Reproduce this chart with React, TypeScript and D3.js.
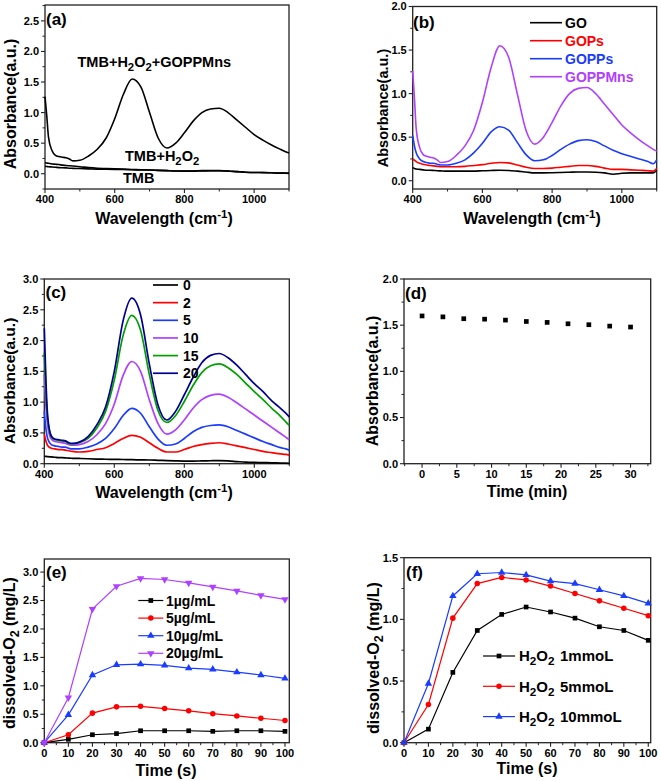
import React from "react";
import * as d3 from "d3";

// ---------- DATA ----------
const wavelengths = [400, 405, 410, 420, 430, 440, 450, 460, 470, 480, 500, 525, 550, 575, 600, 625, 650, 675, 700, 725, 750, 775, 800, 825, 850, 875, 900, 925, 950, 975, 1000, 1025, 1050, 1075, 1090, 1100];

// panel (a)
const aTMB = [0.12, 0.118, 0.115, 0.11, 0.105, 0.1, 0.098, 0.095, 0.09, 0.088, 0.085, 0.08, 0.075, 0.072, 0.07, 0.068, 0.065, 0.062, 0.06, 0.055, 0.05, 0.045, 0.042, 0.042, 0.045, 0.048, 0.048, 0.042, 0.035, 0.025, 0.02, 0.018, 0.015, 0.01, 0.008, 0.005];
const aTMBH2O2 = [0.18, 0.175, 0.17, 0.16, 0.155, 0.15, 0.14, 0.135, 0.13, 0.125, 0.115, 0.1, 0.09, 0.085, 0.08, 0.075, 0.07, 0.065, 0.06, 0.055, 0.05, 0.045, 0.045, 0.045, 0.05, 0.05, 0.05, 0.045, 0.035, 0.025, 0.02, 0.02, 0.015, 0.01, 0.01, 0.01];
const GOPPMns = [1.26, 0.95, 0.6, 0.38, 0.3, 0.28, 0.27, 0.26, 0.24, 0.21, 0.22, 0.29, 0.4, 0.58, 0.9, 1.3, 1.55, 1.42, 1.0, 0.58, 0.42, 0.5, 0.67, 0.86, 1.0, 1.06, 1.07, 1.0, 0.88, 0.76, 0.64, 0.55, 0.47, 0.4, 0.36, 0.34];

// panel (b)
const GO = [0.15, 0.14, 0.135, 0.13, 0.125, 0.12, 0.12, 0.118, 0.115, 0.113, 0.11, 0.11, 0.11, 0.11, 0.115, 0.118, 0.12, 0.118, 0.11, 0.1, 0.09, 0.09, 0.092, 0.095, 0.098, 0.1, 0.1, 0.098, 0.09, 0.075, 0.085, 0.09, 0.09, 0.09, 0.09, 0.12];
const GOPs = [0.25, 0.235, 0.22, 0.2, 0.19, 0.18, 0.175, 0.17, 0.165, 0.16, 0.16, 0.16, 0.165, 0.175, 0.185, 0.2, 0.21, 0.205, 0.18, 0.155, 0.14, 0.14, 0.145, 0.155, 0.165, 0.175, 0.175, 0.165, 0.145, 0.13, 0.13, 0.125, 0.12, 0.115, 0.11, 0.14];
const GOPPs = [0.52, 0.4, 0.32, 0.25, 0.22, 0.21, 0.2, 0.2, 0.19, 0.18, 0.18, 0.2, 0.24, 0.32, 0.43, 0.56, 0.62, 0.58, 0.44, 0.3, 0.23, 0.24, 0.29, 0.36, 0.42, 0.46, 0.47, 0.45, 0.4, 0.35, 0.31, 0.28, 0.25, 0.22, 0.195, 0.24];

// panel (c)
const c0 = [0.12, 0.118, 0.115, 0.11, 0.105, 0.1, 0.098, 0.095, 0.09, 0.088, 0.085, 0.08, 0.075, 0.072, 0.07, 0.068, 0.065, 0.062, 0.06, 0.055, 0.05, 0.045, 0.042, 0.042, 0.045, 0.048, 0.05, 0.045, 0.035, 0.025, 0.02, 0.018, 0.015, 0.01, 0.008, 0.005];
const c2 = [0.48, 0.36, 0.29, 0.25, 0.24, 0.23, 0.23, 0.22, 0.21, 0.2, 0.19, 0.2, 0.23, 0.26, 0.33, 0.41, 0.46, 0.43, 0.34, 0.25, 0.19, 0.19, 0.23, 0.28, 0.31, 0.33, 0.34, 0.32, 0.29, 0.26, 0.23, 0.2, 0.18, 0.16, 0.15, 0.14];
const c5 = [0.85, 0.55, 0.4, 0.31, 0.29, 0.28, 0.27, 0.27, 0.25, 0.24, 0.24, 0.27, 0.32, 0.41, 0.57, 0.78, 0.9, 0.82, 0.6, 0.4, 0.3, 0.32, 0.41, 0.52, 0.59, 0.62, 0.63, 0.6, 0.54, 0.48, 0.42, 0.36, 0.31, 0.26, 0.24, 0.22];
const c10 = [1.45, 0.9, 0.6, 0.4, 0.36, 0.35, 0.34, 0.33, 0.31, 0.3, 0.31, 0.36, 0.47, 0.65, 0.97, 1.43, 1.66, 1.5, 1.04, 0.65, 0.48, 0.55, 0.71, 0.9, 1.04, 1.11, 1.13, 1.08, 0.99, 0.89, 0.79, 0.69, 0.59, 0.49, 0.43, 0.39];
const c15 = [1.8, 1.1, 0.7, 0.44, 0.39, 0.38, 0.37, 0.36, 0.33, 0.32, 0.34, 0.41, 0.58, 0.85, 1.36, 2.08, 2.41, 2.17, 1.45, 0.86, 0.67, 0.78, 1.01, 1.27, 1.48, 1.59, 1.62, 1.56, 1.45, 1.31, 1.17, 1.04, 0.9, 0.77, 0.68, 0.62];
const c20 = [2.2, 1.3, 0.75, 0.45, 0.4, 0.39, 0.38, 0.37, 0.34, 0.33, 0.35, 0.44, 0.63, 0.92, 1.5, 2.32, 2.69, 2.42, 1.62, 0.95, 0.71, 0.85, 1.12, 1.4, 1.64, 1.76, 1.79, 1.72, 1.6, 1.45, 1.3, 1.17, 1.02, 0.9, 0.82, 0.76];
const cLabels = ["0", "2", "5", "10", "15", "20"];

// panel (d)
const dTime = [0, 3, 6, 9, 12, 15, 18, 21, 24, 27, 30];
const dAbs = [1.6, 1.59, 1.57, 1.565, 1.555, 1.54, 1.53, 1.515, 1.505, 1.49, 1.48];

// panel (e)
const eTime = [0, 10, 20, 30, 40, 50, 60, 70, 80, 90, 100];
const e1 = [0, 0.06, 0.14, 0.16, 0.21, 0.21, 0.21, 0.2, 0.21, 0.21, 0.2];
const e5 = [0, 0.14, 0.52, 0.63, 0.64, 0.6, 0.56, 0.51, 0.47, 0.43, 0.39];
const e10 = [0, 0.49, 1.19, 1.37, 1.38, 1.36, 1.31, 1.29, 1.24, 1.19, 1.13];
const e20 = [0, 0.79, 2.35, 2.75, 2.89, 2.87, 2.81, 2.74, 2.67, 2.59, 2.52];
const eLabels = ["1µg/mL", "5µg/mL", "10µg/mL", "20µg/mL"];

// panel (f)
const fTime = [0, 10, 20, 30, 40, 50, 60, 70, 80, 90, 100];
const f1 = [0, 0.11, 0.57, 0.91, 1.04, 1.1, 1.06, 1.01, 0.94, 0.91, 0.83];
const f5 = [0, 0.31, 1.01, 1.29, 1.34, 1.32, 1.27, 1.21, 1.15, 1.09, 1.03];
const f10 = [0, 0.48, 1.19, 1.37, 1.38, 1.36, 1.31, 1.29, 1.24, 1.19, 1.13];
const fLabels = ["1mmoL", "5mmoL", "10mmoL"];

// ---------- STYLE ----------
const FONT = "'Liberation Sans', Arial, Helvetica, sans-serif";
const BLACK = "#000000";
const RED = "#ff0000";
const BLUE = "#1a3cff";
const PURPLE = "#b040ff";
const GREEN = "#00a000";
const NAVY = "#000090";

type Sc = d3.ScaleLinear<number, number>;

function Axes(props: {
  xs: Sc; ys: Sc; xTicks: number[]; xMinor: number[]; yTicks: number[]; yMinor: number[];
  xFmt?: (v: number) => string; yFmt?: (v: number) => string; tickSize?: number;
}) {
  const { xs, ys, xTicks, xMinor, yTicks, yMinor } = props;
  const xFmt = props.xFmt || ((v: number) => String(v));
  const yFmt = props.yFmt || ((v: number) => v.toFixed(1));
  const fs = props.tickSize || 11;
  const [x0, x1] = xs.range();
  const [y1, y0] = ys.range();
  return (
    <g>
      <rect x={x0} y={y0} width={x1 - x0} height={y1 - y0} fill="none" stroke="#222" strokeWidth={1.3} />
      {yTicks.map((t) => (
        <g key={"yt" + t}>
          <line x1={x0 - 4} x2={x0} y1={ys(t)} y2={ys(t)} stroke="#222" strokeWidth={1.1} />
          <text x={x0 - 6} y={ys(t)} dy="0.36em" textAnchor="end" fontSize={fs} fontWeight="bold" fontFamily={FONT}>{yFmt(t)}</text>
        </g>
      ))}
      {yMinor.map((t) => (
        <line key={"ym" + t} x1={x0 - 2.5} x2={x0} y1={ys(t)} y2={ys(t)} stroke="#222" strokeWidth={1} />
      ))}
      {xTicks.map((t) => (
        <g key={"xt" + t}>
          <line x1={xs(t)} x2={xs(t)} y1={y1} y2={y1 + 4} stroke="#222" strokeWidth={1.1} />
          <text x={xs(t)} y={y1 + 14} textAnchor="middle" fontSize={fs} fontWeight="bold" fontFamily={FONT}>{xFmt(t)}</text>
        </g>
      ))}
      {xMinor.map((t) => (
        <line key={"xm" + t} x1={xs(t)} x2={xs(t)} y1={y1} y2={y1 + 2.5} stroke="#222" strokeWidth={1} />
      ))}
    </g>
  );
}

function YTitle({ x, y, size, children }: { x: number; y: number; size: number; children: React.ReactNode }) {
  return (
    <text transform={`translate(${x},${y}) rotate(-90)`} dy="0.36em" textAnchor="middle" fontSize={size} fontWeight="bold" fontFamily={FONT}>{children}</text>
  );
}

function XTitle({ x, y, size, children }: { x: number; y: number; size: number; children: React.ReactNode }) {
  return (
    <text x={x} y={y} textAnchor="middle" fontSize={size} fontWeight="bold" fontFamily={FONT}>{children}</text>
  );
}

function PanelLabel({ x, y, text }: { x: number; y: number; text: string }) {
  return <text x={x} y={y} fontSize={17} fontWeight="bold" fontFamily={FONT}>{text}</text>;
}

const WaveTitle = () => (
  <>
    Wavelength (cm<tspan dy={-6} fontSize="0.72em">-1</tspan><tspan dy={6}>)</tspan>
  </>
);

function spectrumPath(xs: Sc, ys: Sc, vals: number[]) {
  const line = d3.line<number>()
    .x((_, i) => xs(wavelengths[i]))
    .y((v) => ys(v))
    .curve(d3.curveMonotoneX);
  return line(vals) || "";
}

function seriesPath(xs: Sc, ys: Sc, xv: number[], vals: number[]) {
  const line = d3.line<number>()
    .x((_, i) => xs(xv[i]))
    .y((v) => ys(v));
  return line(vals) || "";
}

const symSquare = d3.symbol().type(d3.symbolSquare).size(22)() || "";
const symCircle = d3.symbol().type(d3.symbolCircle).size(24)() || "";
const symTri = d3.symbol().type(d3.symbolTriangle).size(24)() || "";

function Marker({ kind, x, y, color }: { kind: string; x: number; y: number; color: string }) {
  const d = kind === "sq" ? symSquare : kind === "ci" ? symCircle : symTri;
  const rot = kind === "td" ? " rotate(180)" : "";
  return <path d={d} transform={`translate(${x},${y})${rot}`} fill={color} />;
}

const minors = (a: number, b: number, step: number) => d3.range(a, b + 1e-9, step);

export default function App() {
  const xa = d3.scaleLinear().domain([400, 1100]).range([45, 289]);
  const ya = d3.scaleLinear().domain([-0.25, 2.76]).range([189, 5]);
  const xb = d3.scaleLinear().domain([400, 1100]).range([412.7, 656.7]);
  const yb = d3.scaleLinear().domain([-0.095, 2.0]).range([189, 6.5]);
  const xc = d3.scaleLinear().domain([400, 1100]).range([44.3, 289.3]);
  const yc = d3.scaleLinear().domain([0, 3]).range([463.7, 279]);
  const xd = d3.scaleLinear().domain([-2.6, 32.9]).range([404, 650.7]);
  const yd = d3.scaleLinear().domain([0, 2]).range([463.7, 279]);
  const xe = d3.scaleLinear().domain([0, 101.8]).range([44.3, 289.3]);
  const ye = d3.scaleLinear().domain([0, 3.23]).range([742.7, 559]);
  const xf = d3.scaleLinear().domain([0, 101]).range([404, 650.7]);
  const yf = d3.scaleLinear().domain([0, 1.5]).range([742.7, 557.7]);

  const wlTicks = [400, 600, 800, 1000];
  const wlMinor = [500, 700, 900, 1100];

  const bSeries = [
    { name: "GO", vals: GO, color: BLACK },
    { name: "GOPs", vals: GOPs, color: RED },
    { name: "GOPPs", vals: GOPPs, color: BLUE },
    { name: "GOPPMns", vals: GOPPMns, color: PURPLE },
  ];
  const cSeries = [c0, c2, c5, c10, c15, c20];
  const cColors = [BLACK, RED, BLUE, PURPLE, GREEN, NAVY];
  const eSeries = [e1, e5, e10, e20];
  const eColors = [BLACK, RED, BLUE, PURPLE];
  const eMarks = ["sq", "ci", "tu", "td"];
  const fSeries = [f1, f5, f10];
  const fColors = [BLACK, RED, BLUE];
  const fMarks = ["sq", "ci", "tu"];

  return (
    <svg width={661} height={781} style={{ position: "absolute", left: 0, top: 0, background: "#fff" }}>
      <rect x={0} y={0} width={661} height={781} fill="#fff" />

      {/* ===== (a) ===== */}
      <Axes xs={xa} ys={ya} xTicks={wlTicks} xMinor={wlMinor}
        yTicks={[0, 0.5, 1, 1.5, 2, 2.5]} yMinor={[-0.25, 0.25, 0.75, 1.25, 1.75, 2.25, 2.75]} />
      <path d={spectrumPath(xa, ya, aTMB)} fill="none" stroke={BLACK} strokeWidth={1.6} />
      <path d={spectrumPath(xa, ya, aTMBH2O2)} fill="none" stroke={BLACK} strokeWidth={1.6} />
      <path d={spectrumPath(xa, ya, GOPPMns)} fill="none" stroke={BLACK} strokeWidth={1.6} />
      <PanelLabel x={46} y={25} text="(a)" />
      <text x={77.5} y={66.5} fontSize={14.5} fontWeight="bold" fontFamily={FONT}>
        TMB+H<tspan dy={4} fontSize="0.78em">2</tspan><tspan dy={-4}>O</tspan><tspan dy={4} fontSize="0.78em">2</tspan><tspan dy={-4}>+GOPPMns</tspan>
      </text>
      <text x={125} y={161} fontSize={14.5} fontWeight="bold" fontFamily={FONT}>
        TMB+H<tspan dy={4} fontSize="0.78em">2</tspan><tspan dy={-4}>O</tspan><tspan dy={4} fontSize="0.78em">2</tspan>
      </text>
      <text x={123} y={183} fontSize={14.5} fontWeight="bold" fontFamily={FONT}>TMB</text>
      <YTitle x={10} y={104} size={16}>Absorbance(a.u.)</YTitle>
      <XTitle x={164} y={224} size={16}><WaveTitle /></XTitle>

      {/* ===== (b) ===== */}
      <Axes xs={xb} ys={yb} xTicks={wlTicks} xMinor={wlMinor}
        yTicks={[0, 0.5, 1, 1.5, 2]} yMinor={[0.25, 0.75, 1.25, 1.75]} />
      {bSeries.map((s) => (
        <path key={s.name} d={spectrumPath(xb, yb, s.vals)} fill="none" stroke={s.color} strokeWidth={1.6} />
      ))}
      <PanelLabel x={413} y={28} text="(b)" />
      {bSeries.map((s, i) => (
        <g key={"lb" + s.name}>
          <line x1={530} x2={562} y1={22.7 + i * 18} y2={22.7 + i * 18} stroke={s.color} strokeWidth={1.6} />
          <text x={565} y={22.7 + i * 18} dy="0.36em" fontSize={14} fontWeight="bold" fill={s.color} fontFamily={FONT}>{s.name}</text>
        </g>
      ))}
      <YTitle x={383} y={108} size={14.5}>Absorbance(a.u.)</YTitle>
      <XTitle x={532} y={224} size={16}><WaveTitle /></XTitle>

      {/* ===== (c) ===== */}
      <Axes xs={xc} ys={yc} xTicks={wlTicks} xMinor={wlMinor}
        yTicks={[0, 0.5, 1, 1.5, 2, 2.5, 3]} yMinor={[0.25, 0.75, 1.25, 1.75, 2.25, 2.75]} />
      {cSeries.map((vals, i) => (
        <path key={"c" + i} d={spectrumPath(xc, yc, vals)} fill="none" stroke={cColors[i]} strokeWidth={1.7} />
      ))}
      <PanelLabel x={45.5} y={298} text="(c)" />
      {cLabels.map((lab, i) => (
        <g key={"lc" + lab}>
          <line x1={153} x2={178} y1={285 + i * 17.65} y2={285 + i * 17.65} stroke={cColors[i]} strokeWidth={1.7} />
          <text x={183} y={285 + i * 17.65} dy="0.36em" fontSize={14} fontWeight="bold" fontFamily={FONT}>{lab}</text>
        </g>
      ))}
      <YTitle x={9.5} y={381} size={15.5}>Absorbance(a.u.)</YTitle>
      <XTitle x={164} y={498} size={16}><WaveTitle /></XTitle>

      {/* ===== (d) ===== */}
      <Axes xs={xd} ys={yd} xTicks={[0, 5, 10, 15, 20, 25, 30]} xMinor={minors(-2.5, 32.5, 5)}
        yTicks={[0, 0.5, 1, 1.5, 2]} yMinor={[0.25, 0.75, 1.25, 1.75]} />
      {dTime.map((t, i) => (
        <Marker key={"d" + t} kind="sq" x={xd(t)} y={yd(dAbs[i])} color={BLACK} />
      ))}
      <PanelLabel x={405} y={299} text="(d)" />
      <YTitle x={372} y={381} size={16}>Absorbance(a.u.)</YTitle>
      <XTitle x={527} y={497} size={16}>Time (min)</XTitle>

      {/* ===== (e) ===== */}
      <Axes xs={xe} ys={ye} xTicks={d3.range(0, 101, 10)} xMinor={minors(5, 95, 10)}
        yTicks={[0, 0.5, 1, 1.5, 2, 2.5, 3]} yMinor={[0.25, 0.75, 1.25, 1.75, 2.25, 2.75]} />
      {eSeries.map((vals, i) => (
        <g key={"e" + i}>
          <path d={seriesPath(xe, ye, eTime, vals)} fill="none" stroke={eColors[i]} strokeWidth={1.2} />
          {vals.map((v, j) => (
            <Marker key={j} kind={eMarks[i]} x={xe(eTime[j])} y={ye(v)} color={eColors[i]} />
          ))}
        </g>
      ))}
      <PanelLabel x={46} y={578} text="(e)" />
      {eLabels.map((lab, i) => (
        <g key={"le" + lab}>
          <line x1={138.3} x2={163.3} y1={600.5 + i * 17.6} y2={600.5 + i * 17.6} stroke={eColors[i]} strokeWidth={1.2} />
          <Marker kind={eMarks[i]} x={150.8} y={600.5 + i * 17.6} color={eColors[i]} />
          <text x={166} y={600.5 + i * 17.6} dy="0.36em" fontSize={14} fontWeight="bold" fontFamily={FONT}>{lab}</text>
        </g>
      ))}
      <YTitle x={9} y={653} size={16}>
        dissolved-O<tspan dy={4} fontSize="0.78em">2</tspan><tspan dy={-4}> (mg/L)</tspan>
      </YTitle>
      <XTitle x={166} y={776} size={16}>Time (s)</XTitle>

      {/* ===== (f) ===== */}
      <Axes xs={xf} ys={yf} xTicks={d3.range(0, 101, 10)} xMinor={minors(5, 95, 10)}
        yTicks={[0, 0.5, 1, 1.5]} yMinor={[0.25, 0.75, 1.25]} />
      {fSeries.map((vals, i) => (
        <g key={"f" + i}>
          <path d={seriesPath(xf, yf, fTime, vals)} fill="none" stroke={fColors[i]} strokeWidth={1.2} />
          {vals.map((v, j) => (
            <Marker key={j} kind={fMarks[i]} x={xf(fTime[j])} y={yf(v)} color={fColors[i]} />
          ))}
        </g>
      ))}
      <PanelLabel x={406} y={578} text="(f)" />
      {fLabels.map((lab, i) => (
        <g key={"lf" + lab}>
          <line x1={483} x2={515} y1={656 + i * 30.3} y2={656 + i * 30.3} stroke={fColors[i]} strokeWidth={1.2} />
          <Marker kind={fMarks[i]} x={499} y={656 + i * 30.3} color={fColors[i]} />
          <text x={519} y={656 + i * 30.3} dy="0.36em" fontSize={15} fontWeight="bold" fontFamily={FONT}>
            H<tspan dy={4} fontSize="0.78em">2</tspan><tspan dy={-4}>O</tspan><tspan dy={4} fontSize="0.78em">2</tspan>
          </text>
          <text x={560} y={656 + i * 30.3} dy="0.36em" fontSize={15} fontWeight="bold" fontFamily={FONT}>{lab}</text>
        </g>
      ))}
      <YTitle x={373} y={658} size={16}>
        dissolved-O<tspan dy={4} fontSize="0.78em">2</tspan><tspan dy={-4}> (mg/L)</tspan>
      </YTitle>
      <XTitle x={527} y={774} size={16}>Time (s)</XTitle>
    </svg>
  );
}
